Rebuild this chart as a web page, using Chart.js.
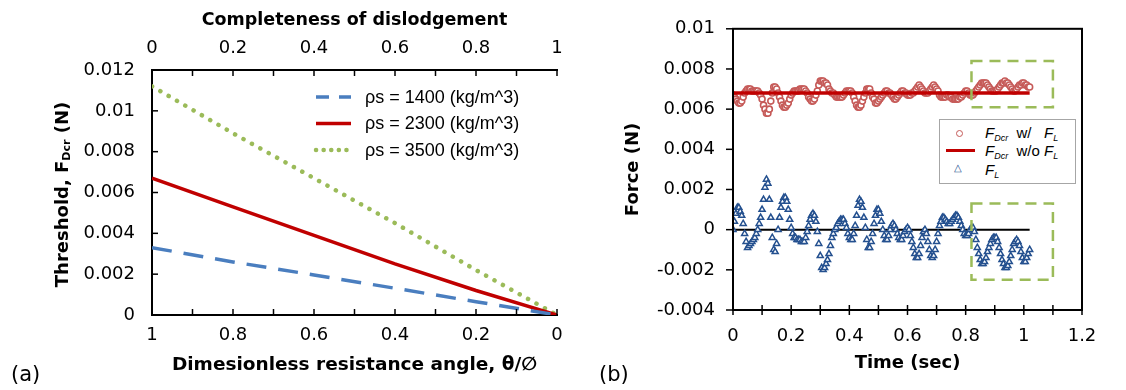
<!DOCTYPE html>
<html>
<head>
<meta charset="utf-8">
<script src="https://cdn.jsdelivr.net/npm/chart.js@4"></script>
<style>
body { margin: 0; background: #fff; width: 1126px; height: 390px; overflow: hidden; position: relative; font-family: "DejaVu Sans", sans-serif; }
#wrapA { position: absolute; left: 0; top: 0; }
#wrapB { position: absolute; left: 580px; top: 0; }
.tag { position: absolute; font-size: 21px; color: #000; }
#legB { position: absolute; left: 939px; top: 119px; width: 137px; height: 65px; border: 1px solid #a6a6a6; box-sizing: border-box; background: #fff; font-family: "Liberation Sans", Arial, sans-serif; font-size: 15px; color: #000; }
#legB .row { position: absolute; left: 45px; height: 18px; line-height: 18px; white-space: pre; }
#legB sub { font-size: 9px; vertical-align: -3px; }
#legB .mk { position: absolute; }
</style>
</head>
<body>
<div id="wrapA"><canvas id="chartA" width="580" height="390"></canvas></div>
<div id="wrapB"><canvas id="chartB" width="546" height="390"></canvas></div>
<div class="tag" style="left:11px; top:362px;">(a)</div>
<div class="tag" style="left:599px; top:362px;">(b)</div>
<div id="legB">
  <span class="mk" style="left:16px; top:10px; width:5px; height:5px; border:1.5px solid #c55a58; border-radius:50%;"></span>
  <div class="row" style="top:4px;"><i>F</i><sub><i>Dcr</i></sub>  w/   <i>F</i><sub><i>L</i></sub></div>
  <span class="mk" style="left:6px; top:29px; width:29px; height:3px; background:#c00000;"></span>
  <div class="row" style="top:22px;"><i>F</i><sub><i>Dcr</i></sub>  w/o <i>F</i><sub><i>L</i></sub></div>
  <span class="mk" style="left:14px; top:43px; font-size:10px; color:#24508f; line-height:10px;">&#9651;</span>
  <div class="row" style="top:41px;"><i>F</i><sub><i>L</i></sub></div>
</div>
<script>
// ---- Data: panel (a) ----
const thetaVals = [1, 0.8, 0.6, 0.4, 0.2, 0];
const f1400 = [0.0033, 0.0026, 0.00196, 0.00131, 0.00065, 0];
const f2300 = [0.0067, 0.0053, 0.0039, 0.0025, 0.0012, 0];
const f3500 = [0.0112, 0.0089, 0.0067, 0.0045, 0.0022, 0];
const densityLabels = ['ρs = 1400 (kg/m^3)', 'ρs = 2300 (kg/m^3)', 'ρs = 3500 (kg/m^3)'];

// ---- Data: panel (b) ----
const timeSec = [
    0.000, 0.005, 0.010, 0.015, 0.020, 0.025, 0.030, 0.035, 0.040, 0.045, 0.050, 0.055, 0.060, 0.065, 0.070, 0.075, 0.080, 0.085, 0.090, 0.095,
    0.100, 0.105, 0.110, 0.115, 0.120, 0.125, 0.130, 0.135, 0.140, 0.145, 0.150, 0.155, 0.160, 0.165, 0.170, 0.175, 0.180, 0.185, 0.190, 0.195,
    0.200, 0.205, 0.210, 0.215, 0.220, 0.225, 0.230, 0.235, 0.240, 0.245, 0.250, 0.255, 0.260, 0.265, 0.270, 0.275, 0.280, 0.285, 0.290, 0.295,
    0.300, 0.305, 0.310, 0.315, 0.320, 0.325, 0.330, 0.335, 0.340, 0.345, 0.350, 0.355, 0.360, 0.365, 0.370, 0.375, 0.380, 0.385, 0.390, 0.395,
    0.400, 0.405, 0.410, 0.415, 0.420, 0.425, 0.430, 0.435, 0.440, 0.445, 0.450, 0.455, 0.460, 0.465, 0.470, 0.475, 0.480, 0.485, 0.490, 0.495,
    0.500, 0.505, 0.510, 0.515, 0.520, 0.525, 0.530, 0.535, 0.540, 0.545, 0.550, 0.555, 0.560, 0.565, 0.570, 0.575, 0.580, 0.585, 0.590, 0.595,
    0.600, 0.605, 0.610, 0.615, 0.620, 0.625, 0.630, 0.635, 0.640, 0.645, 0.650, 0.655, 0.660, 0.665, 0.670, 0.675, 0.680, 0.685, 0.690, 0.695,
    0.700, 0.705, 0.710, 0.715, 0.720, 0.725, 0.730, 0.735, 0.740, 0.745, 0.750, 0.755, 0.760, 0.765, 0.770, 0.775, 0.780, 0.785, 0.790, 0.795,
    0.800, 0.805, 0.810, 0.815, 0.820, 0.825, 0.830, 0.835, 0.840, 0.845, 0.850, 0.855, 0.860, 0.865, 0.870, 0.875, 0.880, 0.885, 0.890, 0.895,
    0.900, 0.905, 0.910, 0.915, 0.920, 0.925, 0.930, 0.935, 0.940, 0.945, 0.950, 0.955, 0.960, 0.965, 0.970, 0.975, 0.980, 0.985, 0.990, 0.995,
    1.000, 1.005, 1.010, 1.015, 1.020
];
const fDcrWithFL = [
    0.0067, 0.0066, 0.0065, 0.0064, 0.0063, 0.0063, 0.0064, 0.0066, 0.0068, 0.0069, 0.0070, 0.0070, 0.0070, 0.0069, 0.0069, 0.0069, 0.0069, 0.0069, 0.0068, 0.0067,
    0.0065, 0.0062, 0.0060, 0.0058, 0.0058, 0.0060, 0.0064, 0.0068, 0.0071, 0.0071, 0.0070, 0.0068, 0.0066, 0.0064, 0.0062, 0.0061, 0.0061, 0.0062, 0.0063, 0.0065,
    0.0067, 0.0068, 0.0069, 0.0069, 0.0069, 0.0069, 0.0070, 0.0070, 0.0070, 0.0070, 0.0069, 0.0068, 0.0066, 0.0065, 0.0064, 0.0064, 0.0065, 0.0067, 0.0069, 0.0072,
    0.0074, 0.0074, 0.0074, 0.0073, 0.0073, 0.0072, 0.0070, 0.0069, 0.0068, 0.0068, 0.0067, 0.0066, 0.0066, 0.0066, 0.0066, 0.0066, 0.0067, 0.0068, 0.0069, 0.0069,
    0.0069, 0.0069, 0.0068, 0.0066, 0.0064, 0.0062, 0.0061, 0.0061, 0.0062, 0.0064, 0.0066, 0.0068, 0.0070, 0.0070, 0.0070, 0.0068, 0.0066, 0.0065, 0.0063, 0.0063,
    0.0064, 0.0065, 0.0066, 0.0067, 0.0068, 0.0069, 0.0069, 0.0068, 0.0068, 0.0067, 0.0066, 0.0065, 0.0065, 0.0066, 0.0067, 0.0068, 0.0069, 0.0069, 0.0068, 0.0068,
    0.0067, 0.0067, 0.0067, 0.0068, 0.0068, 0.0069, 0.0070, 0.0071, 0.0072, 0.0071, 0.0070, 0.0069, 0.0068, 0.0068, 0.0068, 0.0069, 0.0070, 0.0071, 0.0072, 0.0071,
    0.0070, 0.0069, 0.0067, 0.0066, 0.0066, 0.0066, 0.0066, 0.0067, 0.0067, 0.0066, 0.0066, 0.0065, 0.0065, 0.0065, 0.0065, 0.0065, 0.0066, 0.0066, 0.0067, 0.0068,
    0.0069, 0.0069, 0.0068, 0.0067, 0.0067, 0.0067, 0.0068, 0.0069, 0.0070, 0.0071, 0.0072, 0.0073, 0.0073, 0.0073, 0.0073, 0.0072, 0.0071, 0.0070, 0.0069, 0.0069,
    0.0069, 0.0069, 0.0070, 0.0071, 0.0072, 0.0073, 0.0073, 0.0074, 0.0073, 0.0073, 0.0072, 0.0071, 0.0070, 0.0069, 0.0069, 0.0070, 0.0071, 0.0072, 0.0072, 0.0073,
    0.0073, 0.0072, 0.0072, 0.0071, 0.0071
];
const fLift = [
    0.0000, 0.0004, 0.0008, 0.0011, 0.0011, 0.0009, 0.0007, 0.0003, -0.0002, -0.0006, -0.0009, -0.0008, -0.0007, -0.0006, -0.0005, -0.0004, -0.0002, 0.0000, 0.0003, 0.0006,
    0.0010, 0.0015, 0.0021, 0.0025, 0.0023, 0.0015, 0.0006, -0.0004, -0.0010, -0.0011, -0.0007, 0.0000, 0.0006, 0.0011, 0.0014, 0.0016, 0.0016, 0.0014, 0.0010, 0.0005,
    0.0001, -0.0002, -0.0004, -0.0004, -0.0005, -0.0005, -0.0005, -0.0006, -0.0006, -0.0006, -0.0004, -0.0001, 0.0002, 0.0005, 0.0007, 0.0008, 0.0007, 0.0004, -0.0001, -0.0007,
    -0.0013, -0.0019, -0.0020, -0.0019, -0.0017, -0.0015, -0.0012, -0.0008, -0.0004, -0.0002, 0.0000, 0.0001, 0.0003, 0.0004, 0.0005, 0.0005, 0.0005, 0.0003, 0.0001, -0.0002,
    -0.0004, -0.0005, -0.0005, -0.0002, 0.0002, 0.0007, 0.0012, 0.0015, 0.0014, 0.0011, 0.0006, 0.0001, -0.0005, -0.0009, -0.0009, -0.0006, -0.0002, 0.0003, 0.0007, 0.0010,
    0.0010, 0.0008, 0.0004, 0.0000, -0.0003, -0.0005, -0.0005, -0.0003, 0.0000, 0.0002, 0.0003, 0.0002, 0.0000, -0.0002, -0.0004, -0.0005, -0.0005, -0.0003, -0.0001, 0.0000,
    0.0001, 0.0000, -0.0003, -0.0006, -0.0009, -0.0012, -0.0014, -0.0014, -0.0012, -0.0008, -0.0004, -0.0001, 0.0000, -0.0002, -0.0006, -0.0010, -0.0013, -0.0014, -0.0013, -0.0010,
    -0.0006, -0.0002, 0.0002, 0.0004, 0.0006, 0.0006, 0.0005, 0.0004, 0.0003, 0.0003, 0.0004, 0.0005, 0.0006, 0.0007, 0.0007, 0.0006, 0.0004, 0.0002, 0.0000, -0.0002,
    -0.0003, -0.0003, -0.0002, 0.0000, 0.0001, 0.0001, -0.0001, -0.0005, -0.0009, -0.0012, -0.0015, -0.0017, -0.0017, -0.0016, -0.0014, -0.0011, -0.0009, -0.0007, -0.0005, -0.0004,
    -0.0004, -0.0004, -0.0006, -0.0009, -0.0012, -0.0015, -0.0017, -0.0019, -0.0019, -0.0018, -0.0016, -0.0013, -0.0010, -0.0007, -0.0006, -0.0005, -0.0006, -0.0008, -0.0011, -0.0014,
    -0.0016, -0.0016, -0.0014, -0.0012, -0.0010
];
const constT = [0, 1.02];
const fDcrNoFL = [0.0068, 0.0068];
const zeroLine = [0, 0];
const boxT = [0.82, 1.1];
const boxUpper = [0.0061, 0.0084];
const boxLower = [-0.0025, 0.0013];

const pts = (xs, ys) => xs.map((x, i) => ({ x, y: ys[i] }));
const fmt = v => String(+v.toFixed(4));
const FAM = '"DejaVu Sans", sans-serif';

// inward / outward tick marks drawn from the scales
const tickMarks = {
    id: 'tickMarks',
    afterDraw(chart, args, opts) {
        const ctx = chart.ctx;
        ctx.save();
        ctx.strokeStyle = '#000';
        ctx.lineWidth = 1.5;
        (opts.marks || []).forEach(m => {
            const s = chart.scales[m.axis];
            const n = Math.round((s.max - s.min) / m.step);
            for (let i = 0; i <= n; i++) {
                const p = s.getPixelForValue(s.min + i * m.step);
                ctx.beginPath();
                if (s.isHorizontal()) {
                    const y = s.position === 'top' ? s.bottom : s.top;
                    ctx.moveTo(p, y + m.from);
                    ctx.lineTo(p, y + m.to);
                } else {
                    ctx.moveTo(s.right + m.from, p);
                    ctx.lineTo(s.right + m.to, p);
                }
                ctx.stroke();
            }
        });
        ctx.restore();
    }
};

function drawRich(ctx, segs, cx, cy) {
    let w = 0;
    segs.forEach(s => { ctx.font = s.f; w += ctx.measureText(s.t).width; });
    let x = cx - w / 2;
    ctx.textBaseline = 'middle';
    ctx.textAlign = 'left';
    segs.forEach(s => {
        ctx.font = s.f;
        ctx.fillText(s.t, x, cy + (s.dy || 0));
        x += ctx.measureText(s.t).width;
    });
}

// y title with subscript for panel (a)
const yTitleA = {
    id: 'yTitleA',
    afterDraw(chart) {
        const ctx = chart.ctx;
        const a = chart.chartArea;
        ctx.save();
        ctx.fillStyle = '#000';
        ctx.translate(63, (a.top + a.bottom) / 2 + 2);
        ctx.rotate(-Math.PI / 2);
        drawRich(ctx, [
            { t: 'Threshold, F', f: 'bold 18px ' + FAM },
            { t: 'Dcr', f: 'bold 11px ' + FAM, dy: 4 },
            { t: ' (N)', f: 'bold 18px ' + FAM }
        ], 0, 0);
        ctx.restore();
    }
};

// legend inside panel (a), using the dataset colours
const legendA = {
    id: 'legendA',
    afterDraw(chart, args, o) {
        const ctx = chart.ctx;
        ctx.save();
        chart.data.datasets.forEach((ds, i) => {
            const y = o.y + i * o.gap;
            ctx.strokeStyle = ds.borderColor;
            ctx.lineWidth = ds.borderWidth;
            ctx.lineCap = ds.borderCapStyle || 'butt';
            ctx.setLineDash(o.dashes[i]);
            ctx.beginPath();
            ctx.moveTo(o.x, y);
            ctx.lineTo(o.x + o.len, y);
            ctx.stroke();
            ctx.setLineDash([]);
            ctx.fillStyle = '#000';
            ctx.font = '18px "Liberation Sans", Arial';
            ctx.textBaseline = 'middle';
            ctx.fillText(ds.label, o.textX, y + 1);
        });
        ctx.restore();
    }
};

const tickFontA = { family: FAM, size: 18 };
const titleFontA = { family: FAM, size: 17.5, weight: 'bold' };

new Chart(document.getElementById('chartA'), {
    type: 'scatter',
    data: {
        datasets: [
            { label: densityLabels[0], data: pts(thetaVals, f1400), showLine: true, pointRadius: 0,
              borderColor: '#4a7ebf', borderWidth: 3.5, borderDash: [20, 12] },
            { label: densityLabels[1], data: pts(thetaVals, f2300), showLine: true, pointRadius: 0,
              borderColor: '#c00000', borderWidth: 3.5 },
            { label: densityLabels[2], data: pts(thetaVals, f3500), showLine: true, pointRadius: 0,
              borderColor: '#9bbb59', borderWidth: 4.5, borderCapStyle: 'round', borderDash: [0.1, 9.5] }
        ]
    },
    options: {
        responsive: false,
        animation: false,
        devicePixelRatio: 1,
        layout: { padding: { left: 0, right: 23, top: 0, bottom: 0 } },
        plugins: {
            legend: { display: false },
            tooltip: { enabled: false },
            legendA: { x: 316, y: 97, gap: 26.5, len: 35, textX: 365, dashes: [[13, 10], [], [0.1, 7.5]] },
            tickMarks: { marks: [
                { axis: 'x', step: 0.1, from: 0, to: -6 },
                { axis: 'x2', step: 0.1, from: 0, to: 6 },
                { axis: 'y', step: 0.002, from: 0, to: 6 }
            ] }
        },
        scales: {
            x: {
                type: 'linear', position: 'bottom', reverse: true, min: 0, max: 1,
                ticks: { stepSize: 0.2, padding: 10, color: '#000', font: tickFontA, callback: fmt, maxRotation: 0 },
                grid: { drawOnChartArea: false, drawTicks: false },
                border: { color: '#000', width: 2 },
                title: { display: true, text: 'Dimesionless resistance angle, θ/∅', color: '#000',
                         font: { family: FAM, size: 18.5, weight: 'bold' }, padding: { top: 0, bottom: 14 } },
                afterFit: s => { s.height = 75; }
            },
            x2: {
                type: 'linear', position: 'top', min: 0, max: 1, display: true,
                ticks: { stepSize: 0.2, padding: 11, color: '#000', font: tickFontA, callback: fmt, maxRotation: 0 },
                grid: { drawOnChartArea: false, drawTicks: false },
                border: { color: '#000', width: 2 },
                title: { display: true, text: 'Completeness of dislodgement', color: '#000', font: titleFontA, padding: { top: 10, bottom: 0 } },
                afterFit: s => { s.height = 70; }
            },
            y: {
                min: 0, max: 0.012,
                ticks: { stepSize: 0.002, padding: 17, color: '#000', font: tickFontA, callback: fmt },
                grid: { drawOnChartArea: false, drawTicks: false },
                border: { color: '#000', width: 2 },
                afterFit: s => { s.width = 152; }
            }
        }
    },
    plugins: [tickMarks, yTitleA, legendA]
});

// ---- panel (b) ----
const frameB = {
    id: 'frameB',
    afterDraw(chart) {
        const a = chart.chartArea;
        const ctx = chart.ctx;
        ctx.save();
        ctx.strokeStyle = '#000';
        ctx.lineWidth = 2;
        ctx.strokeRect(a.left, a.top, a.right - a.left, a.bottom - a.top);
        ctx.restore();
    }
};

const zoomBoxes = {
    id: 'zoomBoxes',
    afterDatasetsDraw(chart) {
        const { x, y } = chart.scales;
        const ctx = chart.ctx;
        ctx.save();
        ctx.strokeStyle = '#9bbb59';
        ctx.lineWidth = 2.5;
        ctx.setLineDash([11, 7]);
        [boxUpper, boxLower].forEach(b => {
            const x0 = x.getPixelForValue(boxT[0]);
            const x1 = x.getPixelForValue(boxT[1]);
            const y0 = y.getPixelForValue(b[1]);
            const y1 = y.getPixelForValue(b[0]);
            ctx.strokeRect(x0, y0, x1 - x0, y1 - y0);
        });
        ctx.restore();
    }
};

const tickFontB = { family: FAM, size: 18 };
const titleFontB = { family: FAM, size: 18, weight: 'bold' };

new Chart(document.getElementById('chartB'), {
    type: 'scatter',
    data: {
        datasets: [
            { label: 'FL zero', data: pts(constT, zeroLine), showLine: true, pointRadius: 0,
              borderColor: '#000', borderWidth: 2, order: 4 },
            { label: 'FDcr w/ FL', data: pts(timeSec, fDcrWithFL), pointStyle: 'circle', pointRadius: 3,
              borderWidth: 1.6, borderColor: '#c65b59', backgroundColor: '#fff', order: 3 },
            { label: 'FDcr w/o FL', data: pts(constT, fDcrNoFL), showLine: true, pointRadius: 0,
              borderColor: '#c00000', borderWidth: 3.5, order: 1 },
            { label: 'FL', data: pts(timeSec, fLift), pointStyle: 'triangle', pointRadius: 3.5,
              borderWidth: 1.5, borderColor: '#24508f', backgroundColor: '#fff', order: 2 }
        ]
    },
    options: {
        responsive: false,
        animation: false,
        devicePixelRatio: 1,
        layout: { padding: { left: 0, right: 44, top: 16, bottom: 0 } },
        plugins: {
            legend: { display: false },
            tooltip: { enabled: false },
            tickMarks: { marks: [
                { axis: 'x', step: 0.1, from: -5, to: 5 },
                { axis: 'y', step: 0.002, from: -7, to: 0 }
            ] }
        },
        scales: {
            x: {
                type: 'linear', position: 'bottom', min: 0, max: 1.2,
                ticks: { stepSize: 0.2, padding: 16, color: '#000', font: tickFontB, callback: fmt, maxRotation: 0 },
                grid: { drawOnChartArea: false, drawTicks: false },
                border: { color: '#000', width: 2 },
                title: { display: true, text: 'Time (sec)', color: '#000', font: titleFontB, padding: { top: 0, bottom: 16 } },
                afterFit: s => { s.height = 80; }
            },
            y: {
                min: -0.004, max: 0.01,
                ticks: { stepSize: 0.002, padding: 18, color: '#000', font: tickFontB, callback: fmt },
                grid: { drawOnChartArea: false, drawTicks: false },
                border: { color: '#000', width: 2 },
                title: { display: true, text: 'Force (N)', color: '#000', font: titleFontB, padding: { top: 43, bottom: 0 } },
                afterFit: s => { s.width = 153; }
            }
        }
    },
    plugins: [tickMarks, frameB, zoomBoxes]
});
</script>
</body>
</html>
